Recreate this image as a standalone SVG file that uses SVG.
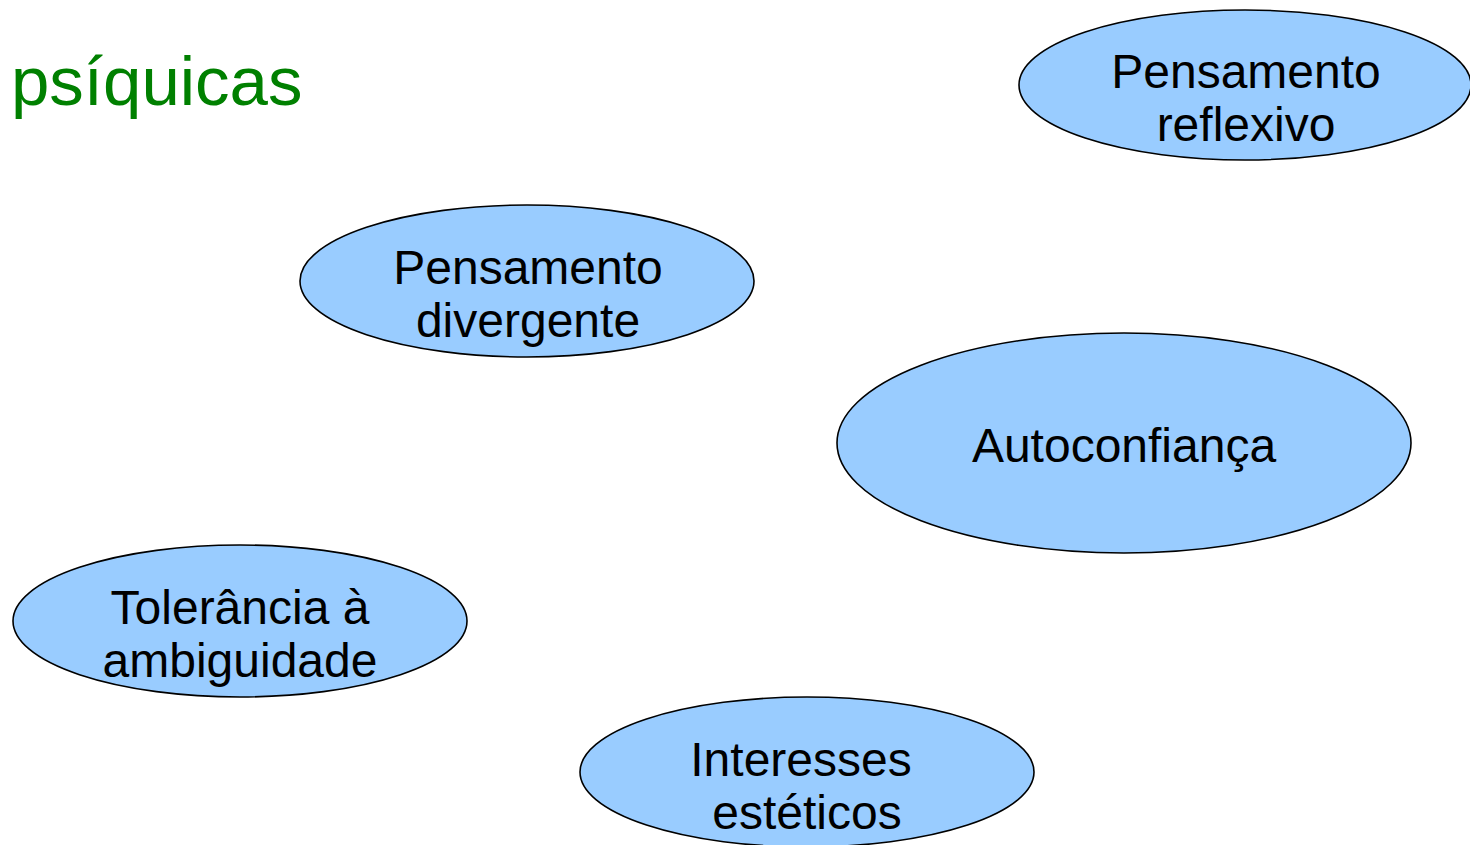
<svg xmlns="http://www.w3.org/2000/svg" width="1470" height="845" viewBox="0 0 1470 845">
<style>
.n ellipse{fill:#99CCFF;stroke:#000;stroke-width:1.6}
.n text{font-family:"Liberation Sans",Arial,sans-serif;font-size:48px;fill:#000;text-anchor:middle}
.title{font-family:"Liberation Sans",Arial,sans-serif;font-size:69px;fill:#008000}
</style>
<rect width="1470" height="845" fill="#fff"/>
<text class="title" x="11" y="105">psíquicas</text>
<g id="connectors"></g>
<g id="reflexivo" class="n">
<ellipse cx="1245" cy="85" rx="226" ry="75"/>
<text x="1246" y="88">Pensamento</text>
<text x="1246" y="141">reflexivo</text>
</g>
<g id="divergente" class="n">
<ellipse cx="527" cy="281" rx="227" ry="76"/>
<text x="528" y="284">Pensamento</text>
<text x="528" y="337">divergente</text>
</g>
<g id="autoconfianca" class="n">
<ellipse cx="1124" cy="443" rx="287" ry="110"/>
<text x="1124" y="462">Autoconfiança</text>
</g>
<g id="tolerancia" class="n">
<ellipse cx="240" cy="621" rx="227" ry="76"/>
<text x="240" y="624">Tolerância à</text>
<text x="240" y="677">ambiguidade</text>
</g>
<g id="interesses" class="n">
<ellipse cx="807" cy="772" rx="227" ry="75"/>
<text x="801" y="776">Interesses</text>
<text x="807" y="829">estéticos</text>
</g>
</svg>
